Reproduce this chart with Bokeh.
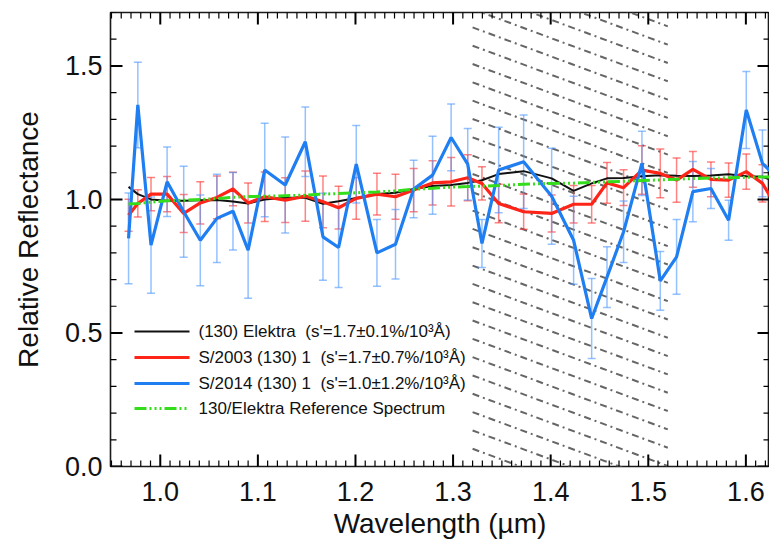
from bokeh.plotting import figure
from bokeh.models import ColumnDataSource, FixedTicker, Range1d, PrintfTickFormatter
from bokeh.core.properties import value
from bokeh.embed import file_html
from bokeh.resources import INLINE

# ---------------- data ----------------
wavelength = [0.9675, 0.977, 0.9905, 1.007, 1.024, 1.041, 1.058, 1.0745, 1.090, 1.107,
              1.128, 1.1486, 1.1667, 1.1827, 1.2008, 1.222, 1.241, 1.2596, 1.279, 1.298,
              1.315, 1.3296, 1.3467, 1.3723, 1.401, 1.4235, 1.442, 1.4577, 1.4747, 1.4935,
              1.5123, 1.529, 1.5457, 1.5642, 1.5823, 1.6004, 1.617, 1.635]

elektra = [1.047, 1.02, 1.0, 0.995, 0.995, 0.997, 0.998, 0.992, 0.985, 1.0,
           1.006, 1.006, 0.984, 0.993, 1.005, 1.02, 1.025, 1.039, 1.05, 1.054,
           1.062, 1.072, 1.095, 1.106, 1.079, 1.032, 1.06, 1.079, 1.08, 1.087,
           1.091, 1.089, 1.088, 1.09, 1.094, 1.087, 1.085, 1.06]

s2003 = [0.941, 0.985, 1.02, 1.02, 0.9475, 0.987, 1.0075, 1.039, 0.987, 1.01,
         0.9975, 1.0125, 0.991, 0.969, 1.004, 1.02, 1.01, 1.035, 1.062, 1.066,
         1.081, 1.06, 0.985, 0.954, 0.9475, 0.982, 0.982, 1.062, 1.044, 1.11,
         1.0975, 1.0725, 1.1125, 1.075, 1.0725, 1.104, 1.06, 0.95]
s2003_err = [0.06, 0.051, 0.062, 0.066, 0.071, 0.079, 0.08, 0.063, 0.075, 0.093,
             0.084, 0.094, 0.097, 0.08, 0.078, 0.078, 0.084, 0.081, 0.083, 0.091,
             0.086, 0.0625, 0.072, 0.066, 0.069, 0.07, 0.07, 0.076, 0.067, 0.091,
             0.091, 0.083, 0.067, 0.065, 0.064, 0.066, 0.07, 0.07]

s2014 = [0.854, 1.354, 0.829, 1.066, 0.954, 0.847, 0.929, 0.956, 0.81, 1.110,
         1.054, 1.216, 0.860, 0.820, 1.132, 0.80, 0.832, 1.039, 1.091, 1.232,
         1.132, 0.835, 1.110, 1.141, 1.012, 0.847, 0.554, 0.709, 0.879, 1.135,
         0.695, 0.785, 1.029, 1.041, 0.922, 1.335, 1.135, 1.07]
s2014_err = [0.17, 0.16, 0.18, 0.13, 0.17, 0.17, 0.165, 0.145, 0.18, 0.175,
             0.18, 0.13, 0.163, 0.15, 0.145, 0.125, 0.13, 0.108, 0.146, 0.125,
             0.134, 0.09, 0.16, 0.175, 0.18, 0.165, 0.15, 0.114, 0.115, 0.12,
             0.11, 0.14, 0.113, 0.075, 0.075, 0.144, 0.125, 0.12]

reference = [0.983, 0.985, 0.99, 0.995, 0.997, 1.0, 1.003, 1.008, 1.011, 1.012,
             1.014, 1.016, 1.02, 1.022, 1.025, 1.028, 1.032, 1.038, 1.042, 1.046,
             1.048, 1.05, 1.052, 1.057, 1.06, 1.061, 1.064, 1.066, 1.068, 1.071,
             1.073, 1.076, 1.078, 1.08, 1.081, 1.083, 1.084, 1.085]

band_start, band_end = 1.32, 1.52   # telluric band (hatched)

x_major = [1.0, 1.1, 1.2, 1.3, 1.4, 1.5, 1.6]
y_major = [0.0, 0.5, 1.0, 1.5]

labels = ["(130) Elektra \u00a0(s'=1.7\u00b10.1%/10\u00b3\u00c5)",
          "S/2003 (130) 1 \u00a0(s'=1.7\u00b10.7%/10\u00b3\u00c5)",
          "S/2014 (130) 1 \u00a0(s'=1.0\u00b11.2%/10\u00b3\u00c5)",
          "130/Elektra Reference Spectrum"]

FONT = "Liberation Sans"
INK = "#1a1a1a"
BLACK = "#111111"
RED = "#ff2418"
BLUE = "#1f7ff2"
GREEN = "#33dd1a"
GREEN_DASH = "12 3 2 3 2 3 2 3"

X0, X1 = 0.949, 1.6242
Y0, Y1 = 0.0, 1.70
W, H = 769, 541
BL, BR, BT, BB = 110, 0, 12, 75
FRAME_W = W - BL - BR
FRAME_H = H - BT - BB
dx_per_px = (X1 - X0) / FRAME_W
dy_per_px = (Y1 - Y0) / FRAME_H


def fx(px):   # horizontal pixel offset from the frame's left edge -> data x
    return X0 + px * dx_per_px


def fy(px):   # vertical pixel offset from the frame's bottom edge -> data y
    return Y0 + px * dy_per_px


p = figure(width=W, height=H, x_range=Range1d(X0, X1), y_range=Range1d(Y0, Y1),
           output_backend="svg", toolbar_location=None,
           min_border_left=BL, min_border_right=BR, min_border_top=BT, min_border_bottom=BB,
           x_axis_label="Wavelength (\u00b5m)", y_axis_label="Relative Reflectance")
p.grid.visible = False
p.outline_line_color = INK
p.outline_line_width = 1.6

# ---------------- hatched band ----------------
slope = 1.352
spacing = 0.0686
c_vals = [0.821 + k * spacing for k in range(-15, 25)]
c_vals = [c for c in c_vals if c > -0.02 and c - slope * (band_end - band_start) < 1.72]
p.segment(x0=[band_start] * len(c_vals), y0=c_vals,
          x1=[band_end] * len(c_vals),
          y1=[c - slope * (band_end - band_start) for c in c_vals],
          line_color="#666666", line_width=2, line_dash="7 4 2 4")

# ---------------- error bars (glyphs) ----------------
cap = 4 * dx_per_px


def error_bars(vals, errs, color):
    lo = [v - e for v, e in zip(vals, errs)]
    hi = [v + e for v, e in zip(vals, errs)]
    src = ColumnDataSource(dict(x=wavelength, lo=lo, hi=hi,
                                xl=[x - cap for x in wavelength],
                                xr=[x + cap for x in wavelength]))
    kw = dict(source=src, line_color=color, line_alpha=0.6, line_width=1.5)
    p.segment(x0="x", y0="lo", x1="x", y1="hi", **kw)
    p.segment(x0="xl", y0="lo", x1="xr", y1="lo", **kw)
    p.segment(x0="xl", y0="hi", x1="xr", y1="hi", **kw)


error_bars(s2003, s2003_err, "#ff3030")
error_bars(s2014, s2014_err, "#4f98ff")

# ---------------- lines ----------------
p.line(wavelength, elektra, line_color=BLACK, line_width=2)
p.line(wavelength, s2003, line_color=RED, line_width=3.2)
p.line(wavelength, s2014, line_color=BLUE, line_width=3.2)
p.line(wavelength, reference, line_color=GREEN, line_width=3, line_dash=GREEN_DASH)

# ---------------- legend drawn with glyphs ----------------
row_px = [135, 109, 83, 58]          # row centres above the frame bottom
styles = [(BLACK, 2, "solid"), (RED, 3.2, "solid"), (BLUE, 3.2, "solid"), (GREEN, 3, GREEN_DASH)]
for rp, (col, lw, dash) in zip(row_px, styles):
    p.line([fx(24), fx(79)], [fy(rp), fy(rp)], line_color=col, line_width=lw, line_dash=dash)
p.text(x=[fx(88)] * 4, y=[fy(rp) for rp in row_px], text=labels,
       text_font=value(FONT), text_font_size="17px", text_color="#111111",
       text_baseline="middle", text_align="left")

# ---------------- box ticks: segments crossing each edge ----------------
x_minor = [round(0.95 + 0.01 * i, 3) for i in range(0, 68)]
x_minor = [float(v) for v in x_minor if v < X1 and min(abs(v - m) for m in x_major) > 1e-6]
y_minor = [round(0.1 * i, 3) for i in range(1, 18)]
y_minor = [float(v) for v in y_minor if min(abs(v - m) for m in y_major) > 1e-6]

for xs, L, wd in ((x_major, 12, 2), (x_minor, 6, 1.2)):
    n = len(xs)
    p.segment(x0=xs, y0=[Y0 - L * dy_per_px] * n, x1=xs, y1=[Y0 + L * dy_per_px] * n,
              line_color="black", line_width=wd)
    p.segment(x0=xs, y0=[Y1 + L * dy_per_px] * n, x1=xs, y1=[Y1 - L * dy_per_px] * n,
              line_color="black", line_width=wd)
for ys, L, wd in ((y_major, 12, 2), (y_minor, 6, 1.2)):
    n = len(ys)
    p.segment(x0=[X0 - L * dx_per_px] * n, y0=ys, x1=[X0 + L * dx_per_px] * n, y1=ys,
              line_color="black", line_width=wd)
    p.segment(x0=[X1 + L * dx_per_px] * n, y0=ys, x1=[X1 - L * dx_per_px] * n, y1=ys,
              line_color="black", line_width=wd)

# ---------------- axes (labels only) ----------------
xa = p.xaxis[0]
ya = p.yaxis[0]
xa.ticker = FixedTicker(ticks=x_major)
ya.ticker = FixedTicker(ticks=y_major)
for ax in (xa, ya):
    ax.formatter = PrintfTickFormatter(format="%.1f")
    ax.axis_line_color = None
    ax.major_tick_in = 0
    ax.minor_tick_in = 0
    ax.major_tick_out = 0
    ax.minor_tick_out = 0
    ax.major_label_text_font = FONT
    ax.major_label_text_font_size = "27px"
    ax.major_label_text_color = "#111111"
    ax.axis_label_text_font = FONT
    ax.axis_label_text_font_style = "normal"
    ax.axis_label_text_color = "#111111"
xa.major_label_standoff = 15
xa.axis_label_standoff = 4
xa.axis_label_text_font_size = "28px"
ya.major_label_standoff = 8
ya.axis_label_standoff = 18
ya.axis_label_text_font_size = "28px"

open("out.html", "w").write(file_html(p, INLINE))
